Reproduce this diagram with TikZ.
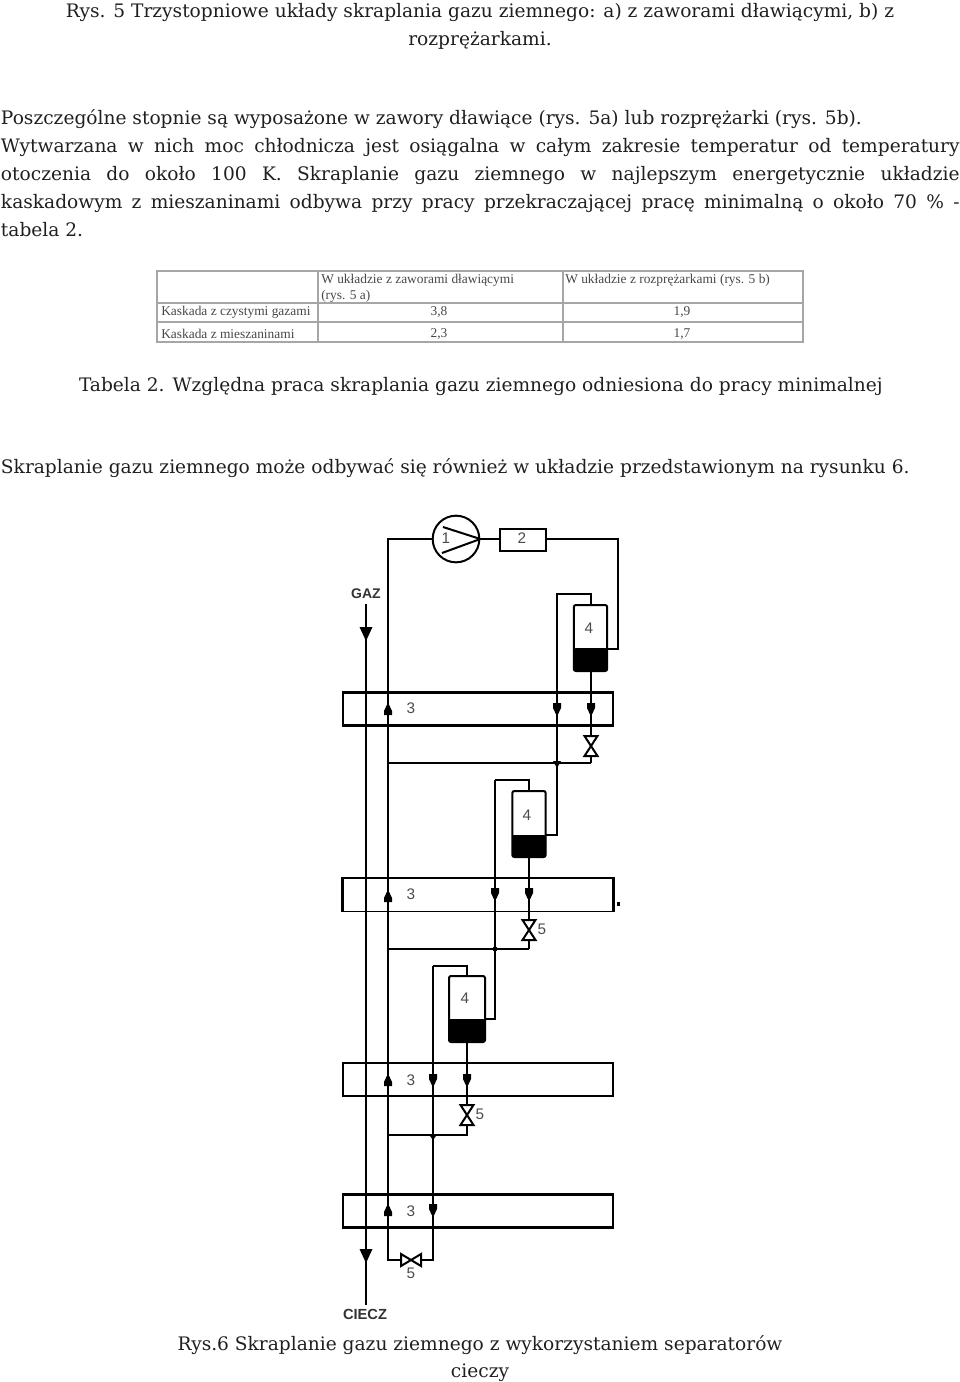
\documentclass[tikz,border=0pt]{standalone}
\usepackage{fontspec}
\setmainfont{DejaVu Serif}
\newfontfamily\diagfont{Liberation Sans}
\newfontfamily\tabfont{Liberation Serif}
\usetikzlibrary{calc}
\newcommand{\tarrdown}[4]{\fill (#1-#3/2,#2) -- (#1+#3/2,#2) -- (#1,#2+#4) -- cycle;}
\newcommand{\smalldown}[2]{\fill (#1-4,#2) -- (#1+4,#2) -- (#1+4,#2+5) -- (#1+1.2,#2+11) -- (#1-1.2,#2+11) -- (#1-4,#2+5) -- cycle;}
\newcommand{\smallup}[2]{\fill (#1-4,#2) -- (#1+4,#2) -- (#1+4,#2-4) -- (#1+1.2,#2-10) -- (#1-1.2,#2-10) -- (#1-4,#2-4) -- cycle;}
\newcommand{\vvalve}[2]{\draw[valvestyle] (#1-6.5,#2-10) -- (#1+6.5,#2-10) -- (#1-6.5,#2+10) -- (#1+6.5,#2+10) -- cycle;}
\newcommand{\hvalve}[2]{\draw[valvestyle] (#1-10,#2-6) -- (#1-10,#2+6) -- (#1+10,#2-6) -- (#1+10,#2+6) -- cycle;}
\tikzset{
  body/.style={anchor=base west,inner sep=0pt,outer sep=0pt,font=\fontsize{13.95pt}{16pt}\selectfont,text=black!88},
  centred/.style={anchor=base,inner sep=0pt,outer sep=0pt,font=\fontsize{13.95pt}{16pt}\selectfont,text=black!88},
  tabtext/.style={inner sep=0pt,font=\tabfont\fontsize{10.05pt}{11pt}\selectfont,text=black!72},
  tabline/.style={draw=black!35,line width=1.1pt},
  pipe/.style={line width=1.8pt,line join=miter},
  thinpipe/.style={line width=1.1pt},
  hxbox/.style={draw,line width=1.8pt,minimum width=202.5pt,minimum height=25pt,inner sep=0pt},
  sepbox/.style={draw,line width=1.5pt,rounded corners=1.5pt,inner sep=0pt,fill=white},
  lab/.style={inner sep=0pt,font=\diagfont\fontsize{11.5pt}{12pt}\selectfont,text=black!70},
  blab/.style={inner sep=0pt,font=\diagfont\bfseries\fontsize{10.5pt}{11pt}\selectfont,text=black!80},
  valvestyle/.style={draw,fill=white,line width=1.5pt,line join=miter},
}
\begin{document}
\begin{tikzpicture}[x=0.75pt,y=-0.75pt]
\useasboundingbox (0,0) rectangle (960,1382);
% ---------- text
\node[centred] (c1) at (480,17) {Rys. 5 Trzystopniowe układy skraplania gazu ziemnego: a) z zaworami dławiącymi, b) z};
\node[centred] (c2) at (480,45) {rozprężarkami.};
\node[body] (p1) at (1,124) {Poszczególne stopnie są wyposażone w zawory dławiące (rys. 5a) lub rozprężarki (rys. 5b).};
\node[body] (p2) at (1,152) {\makebox[719pt][s]{Wytwarzana w nich moc chłodnicza jest osiągalna w całym zakresie temperatur od temperatury}};
\node[body] (p3) at (1,180) {\makebox[719pt][s]{otoczenia do około 100 K. Skraplanie gazu ziemnego w najlepszym energetycznie układzie}};
\node[body] (p4) at (1,208) {\makebox[719pt][s]{kaskadowym z mieszaninami odbywa przy pracy przekraczającej pracę minimalną o około 70 \% -}};
\node[body] (p5) at (1,236) {tabela 2.};
\node[body] (t2) at (79,391) {Tabela 2. Względna praca skraplania gazu ziemnego odniesiona do pracy minimalnej};
\node[body] (p6) at (1,473) {Skraplanie gazu ziemnego może odbywać się również w układzie przedstawionym na rysunku 6.};
\node[centred] (r1) at (480,1350) {Rys.6 Skraplanie gazu ziemnego z wykorzystaniem separatorów};
\node[centred] (r2) at (480,1377) {cieczy};
% ---------- table
\coordinate (tl) at (157,271); \coordinate (tr) at (803,271);
\coordinate (bl) at (157,342); \coordinate (br) at (803,342);
\coordinate (ml1) at (157,303); \coordinate (mr1) at (803,303);
\coordinate (ml2) at (157,322); \coordinate (mr2) at (803,322);
\coordinate (ct1) at (318,271); \coordinate (cb1) at (318,342);
\coordinate (ct2) at (563,271); \coordinate (cb2) at (563,342);
\draw[tabline] (tl) -- (tr) -- (br) -- (bl) -- cycle;
\draw[tabline] (ml1) -- (mr1) (ml2) -- (mr2) (ct1) -- (cb1) (ct2) -- (cb2);
\node[tabtext,anchor=west] (h1) at (321,280) {W układzie z zaworami dławiącymi};
\node[tabtext,anchor=west] (h2) at (321,296) {(rys. 5 a)};
\node[tabtext,anchor=west] (h3) at (565,280) {W układzie z rozprężarkami (rys. 5 b)};
\node[tabtext,anchor=west] (k1) at (161,312) {Kaskada z czystymi gazami};
\node[tabtext,anchor=west] (k2) at (161,334) {Kaskada z mieszaninami};
\node[tabtext] (v1) at (439,312) {3,8};
\node[tabtext] (v2) at (682,312) {1,9};
\node[tabtext] (v3) at (439,334) {2,3};
\node[tabtext] (v4) at (682,334) {1,7};
% ---------- heat exchangers
\node[hxbox] (hx1) at (478,709) {};
\node[hxbox,line width=1pt] (hx2) at (478,894.5) {};
\draw[line width=1.8pt] (hx2.north west) -- (hx2.south west) (hx2.north east) -- (hx2.south east);
\node[hxbox] (hx3) at (478,1079.5) {};
\node[hxbox] (hx4) at (478,1211) {};
\node[lab] (l31) at (411,708) {3};
\node[lab] (l32) at (411,894) {3};
\node[lab] (l33) at (411,1080) {3};
\node[lab] (l34) at (411,1211) {3};
% ---------- compressor and cooler
\node[draw,circle,line width=1.5pt,minimum size=35pt,inner sep=0pt] (comp) at (456,539) {};
\node[lab,anchor=center] (l1) at (446,538) {1};
\draw[line width=1.5pt] ($(comp.center)+(-13,-12)$) -- (comp.east) -- ($(comp.center)+(-14,14)$);
\node[draw,line width=1.4pt,minimum width=34.5pt,minimum height=16.5pt,inner sep=0pt] (cool) at (523,540) {};
\node[lab] (l2) at (522,538) {2};
% ---------- separators
\node[sepbox,minimum width=25pt,minimum height=49.5pt] (s1) at (590.5,638) {};
\node[sepbox,minimum width=25pt,minimum height=49.5pt] (s2) at (529,824) {};
\node[sepbox,minimum width=27pt,minimum height=49.5pt] (s3) at (467,1009) {};
\fill[rounded corners=1.5pt] (574,648) rectangle (607,671);
\fill[rounded corners=1.5pt] (512,835) rectangle (546,857);
\fill[rounded corners=1.5pt] (449,1019) rectangle (485,1042);
\node[lab] (l41) at (589,628) {4};
\node[lab] (l42) at (527,815) {4};
\node[lab] (l43) at (465,998) {4};
% ---------- pipe corners
\coordinate (a1) at (388,539);
\coordinate (a2) at (388,1260);
\coordinate (a3) at (433,1260);
\coordinate (b1) at (618,539);
\coordinate (b2) at (618,649);
\coordinate (b3) at (607,649);
\coordinate (c11) at (591,605);
\coordinate (c12) at (591,594);
\coordinate (c13) at (557,594);
\coordinate (c14) at (557,835);
\coordinate (c15) at (546,835);
\coordinate (d1) at (591,671);
\coordinate (d2) at (591,763);
\coordinate (d3) at (388,763);
\coordinate (e1) at (529,791);
\coordinate (e2) at (529,780);
\coordinate (e3) at (495,780);
\coordinate (e4) at (495,1019);
\coordinate (e5) at (485,1019);
\coordinate (f1) at (529,857);
\coordinate (f2) at (529,949);
\coordinate (f3) at (388,949);
\coordinate (g1) at (467,976);
\coordinate (g2) at (467,966);
\coordinate (g3) at (433,966);
\coordinate (g4) at (467,1042);
\coordinate (g5) at (467,1135);
\coordinate (g6) at (388,1135);
\coordinate (gaz1) at (366,604);
\coordinate (gaz2) at (366,1305);
% ---------- pipes
\draw[pipe] (gaz1) -- (gaz2);
\draw[pipe] (comp.west) -- (a1) -- (a2) -- (a3) -- (g3);
\draw[thinpipe,line width=1.3pt] (g3) -- (g2) -- (g1);
\draw[pipe] (comp.east) -- (cool.west |- comp.east);
\draw[pipe,line width=2.2pt] (cool.east |- b1) -- (b1) -- (b2) -- (b3);
\draw[thinpipe] (c11) -- (c12) -- (c13) -- (c14) -- (c15);
\draw[thinpipe] (d1) -- (d2);
\draw[pipe] (d2) -- (d3);
\draw[thinpipe] (e1) -- (e2) -- (e3);
\draw[pipe,line width=2pt] (e3) -- (e4) -- (e5);
\draw[thinpipe,line width=1.3pt] (f1) -- (f2);
\draw[pipe,line width=1.4pt] (f2) -- (f3);
\draw[thinpipe,line width=1.3pt] (g4) -- (g5) -- (g6);
% ---------- arrowheads
\tarrdown{366}{627}{13}{14}
\tarrdown{366}{1249}{13}{14}
\smallup{388}{715}
\smallup{388}{902}
\smallup{388}{1086}
\smallup{388}{1216}
\smalldown{557}{703}
\smalldown{591}{703}
\smalldown{495}{888}
\smalldown{529}{888}
\smalldown{433}{1074}
\smalldown{467}{1074}
\smalldown{433}{1204}
\tarrdown{557}{761}{8}{7}
\fill (495,949) circle (2.5);
\tarrdown{433}{1134}{9}{6}
% ---------- valves
\vvalve{591}{746}
\vvalve{529}{930}
\vvalve{467}{1115}
\hvalve{411}{1260}
\node[lab] (l51) at (542,929) {5};
\node[lab] (l52) at (480,1114) {5};
\node[lab] (l53) at (411,1273) {5};
% ---------- terminal labels and stray mark
\node[blab] (gaz) at (366,594) {GAZ};
\node[blab,font=\diagfont\bfseries\fontsize{11pt}{12pt}\selectfont] (ciecz) at (365,1314) {CIECZ};
\fill (616.5,901.5) rectangle (620,906);
\end{tikzpicture}
\end{document}
